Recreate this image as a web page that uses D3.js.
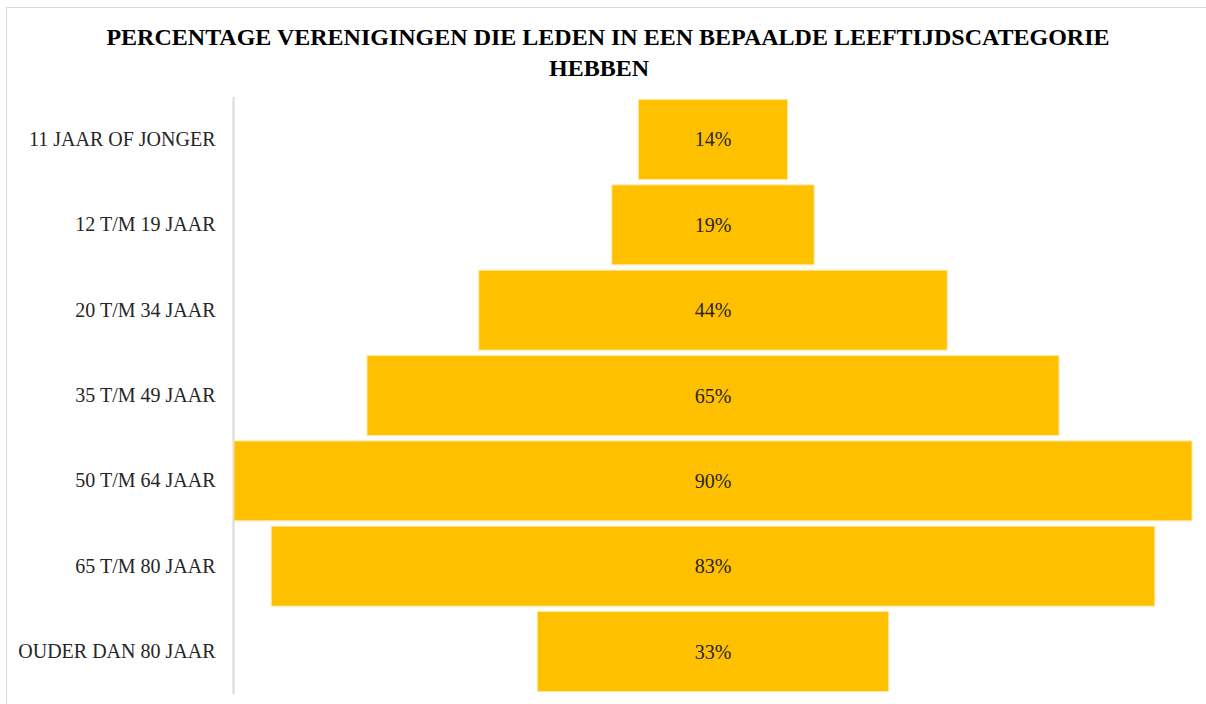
<!DOCTYPE html>
<html>
<head>
<meta charset="utf-8">
<script src="https://cdn.jsdelivr.net/npm/d3@7"></script>
<style>
  html, body { margin: 0; padding: 0; background: #fff; }
  svg { display: block; }
</style>
</head>
<body>
<div id="chart"></div>
<script>
// Data
const categories = [
    '11 JAAR OF JONGER',
    '12 T/M 19 JAAR',
    '20 T/M 34 JAAR',
    '35 T/M 49 JAAR',
    '50 T/M 64 JAAR',
    '65 T/M 80 JAAR',
    'OUDER DAN 80 JAAR'
];
const values = [14, 19, 44, 65, 90, 83, 33];
const titleLines = [
    'PERCENTAGE VERENIGINGEN DIE LEDEN IN EEN BEPAALDE LEEFTIJDSCATEGORIE',
    'HEBBEN'
];

const width = 1206;
const height = 704;
const plot = { left: 234, right: 1192, top: 97, bottom: 694 };
const serif = "'Liberation Serif', 'DejaVu Serif', serif";

const svg = d3.select('#chart')
    .append('svg')
    .attr('width', width)
    .attr('height', height);

// outer chart frame
svg.append('rect')
    .attr('x', 6.5)
    .attr('y', 7.5)
    .attr('width', width + 10)
    .attr('height', height + 10)
    .attr('fill', 'none')
    .attr('stroke', '#d9d9d9')
    .attr('stroke-width', 1);

// Title (second line sits a little left, as in the original wrap)
const titleX = [608, 599];
svg.append('text')
    .attr('y', 45)
    .attr('text-anchor', 'middle')
    .attr('font-family', serif)
    .attr('font-weight', 'bold')
    .attr('font-size', '24px')
    .attr('fill', '#000')
    .selectAll('tspan')
    .data(titleLines)
    .join('tspan')
    .attr('x', (d, i) => titleX[i])
    .attr('dy', (d, i) => i === 0 ? 0 : 31)
    .text(d => d);

// Scales: bars centred around zero (funnel)
const half = d3.max(values) / 2;
const x = d3.scaleLinear()
    .domain([-half, half])
    .range([plot.left, plot.right]);

const y = d3.scaleBand()
    .domain(categories)
    .range([plot.top, plot.bottom])
    .paddingInner(0.065)
    .paddingOuter(0.03);

// Category axis
const yAxis = svg.append('g')
    .attr('transform', `translate(${plot.left - 0.5},0)`)
    .call(d3.axisLeft(y).tickSize(0).tickPadding(18));

yAxis.select('.domain')
    .attr('stroke', '#d9d9d9')
    .attr('stroke-width', 2)
    .attr('d', `M0,${plot.top}V${plot.bottom}`);

yAxis.selectAll('text')
    .attr('font-family', serif)
    .attr('font-size', '20px')
    .attr('fill', '#262626');

// Bars
svg.append('g')
    .selectAll('rect')
    .data(values)
    .join('rect')
    .attr('x', d => x(-d / 2))
    .attr('y', (d, i) => y(categories[i]))
    .attr('width', d => x(d / 2) - x(-d / 2))
    .attr('height', y.bandwidth())
    .attr('fill', '#ffc000')
    .attr('stroke', '#ffe699')
    .attr('stroke-width', 1);

// Value labels
svg.append('g')
    .selectAll('text')
    .data(values)
    .join('text')
    .attr('x', x(0))
    .attr('y', (d, i) => y(categories[i]) + y.bandwidth() / 2)
    .attr('dy', '0.35em')
    .attr('text-anchor', 'middle')
    .attr('font-family', serif)
    .attr('font-size', '20px')
    .attr('fill', '#262626')
    .text(d => `${d}%`);
</script>
</body>
</html>
